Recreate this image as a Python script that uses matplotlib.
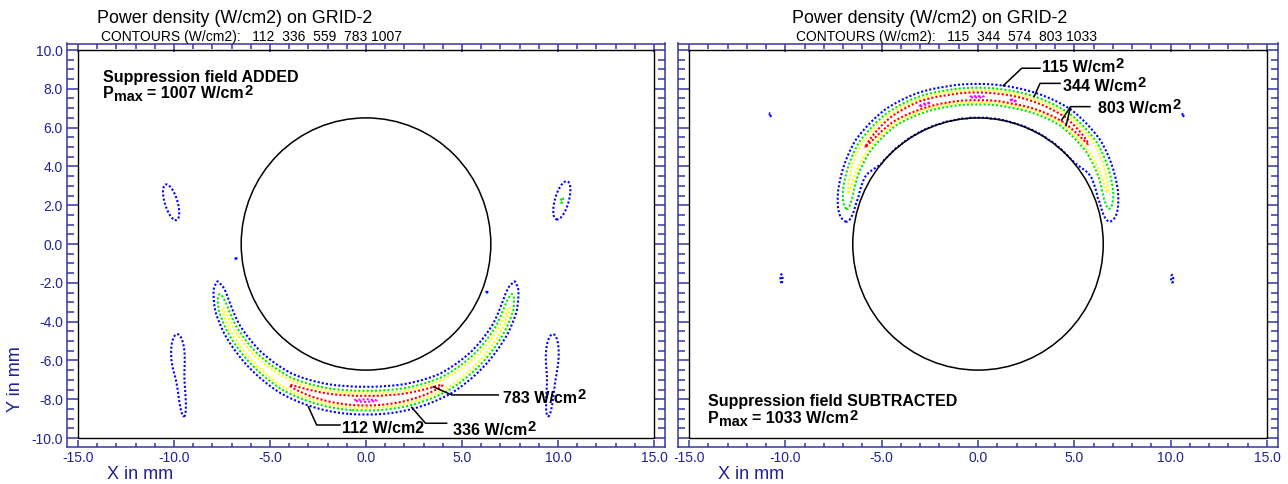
import numpy as np
import matplotlib
matplotlib.use("Agg")
import matplotlib.pyplot as plt
import matplotlib.transforms as mtransforms
from matplotlib.patches import Rectangle, Circle

plt.rcParams['font.family'] = ['Liberation Sans', 'DejaVu Sans']

# ---------------- data ----------------
TITLE = "Power density (W/cm2) on GRID-2"
LEVELS_ADDED = [112, 336, 559, 783, 1007]
LEVELS_SUB = [115, 344, 574, 803, 1033]
PMAX_ADDED = 1007
PMAX_SUB = 1033
CONTOUR_COLORS = ['#0000ff', '#00e800', '#ffff00', '#ff0000', '#ff00ff']
X_TICKS = [-15, -10, -5, 0, 5, 10, 15]
Y_TICKS = [-10, -8, -6, -4, -2, 0, 2, 4, 6, 8, 10]
CONDUCTOR_RADIUS = 6.5

# field band of the "ADDED" case (angle measured from -y axis, degrees)
ADD_PHI = [-90, -80, -75, -71, -66, -58, -45, -30, -20, -8, 0, 8, 20, 30, 45, 58, 66, 71, 75, 80, 90]
ADD_AMP = [0, 40, 130, 350, 575, 610, 640, 770, 880, 990, 1030, 985, 880, 770, 640, 610, 575, 350, 130, 40, 0]
ADD_R0 = [7.9, 7.9, 8.0, 8.05, 8.15, 8.25, 8.3, 8.3, 8.2, 8.1, 8.07, 8.1, 8.2, 8.3, 8.3, 8.25, 8.15, 8.05, 8.0, 7.9, 7.9]
ADD_W = [0.30, 0.30, 0.31, 0.32, 0.34, 0.35, 0.38, 0.42, 0.45, 0.48, 0.48, 0.48, 0.45, 0.42, 0.38, 0.35, 0.34, 0.32, 0.31, 0.30, 0.30]

# field band of the "SUBTRACTED" case (angle measured from +y axis, degrees)
SUB_PHI = [-90, -84, -80, -75, -69, -60, -50, -35, -22, -12, 0, 8, 14, 25, 35, 50, 60, 69, 75, 80, 84, 90]
SUB_AMP = [0, 40, 125, 350, 570, 650, 800, 900, 1045, 1010, 1045, 1010, 1042, 950, 900, 790, 650, 570, 350, 125, 40, 0]
SUB_R0 = [6.9, 6.9, 6.95, 7.05, 7.2, 7.45, 7.68, 7.8, 7.72, 7.62, 7.58, 7.6, 7.62, 7.72, 7.8, 7.68, 7.45, 7.2, 7.05, 6.95, 6.9, 6.9]
SUB_W_OUT = 0.45
SUB_W_IN = 0.30
SUB_TAIL_FRAC = 0.18
SUB_TAIL_W = 2.5

# isolated low-level islands: (cx, cy, sigma_major, sigma_minor, angle_deg, amplitude)
ADD_ISLANDS = [
    (-10.15, 2.15, 1.05, 0.36, 107, 170),
    (-9.8, -5.7, 1.15, 0.38, 92, 170),
    (-9.55, -8.1, 1.0, 0.18, 95, 150),
    (10.2, 2.25, 0.68, 0.24, 74, 345),
    (9.7, -5.7, 1.15, 0.36, 88, 170),
    (9.55, -8.1, 1.0, 0.18, 85, 150),
    (-6.77, -0.72, 0.16, 0.07, 90, 125),
    (6.3, -2.45, 0.18, 0.06, 90, 125),
]
SUB_ISLANDS = [
    (-10.79, 6.65, 0.2, 0.07, 90, 130),
    (10.64, 6.65, 0.2, 0.07, 90, 130),
    (-10.2, -1.78, 0.36, 0.09, 90, 140),
    (10.08, -1.8, 0.34, 0.09, 90, 140),
]

# annotations: (value, superscript?, leader polylines, text position)
ADD_NOTES = [
    (112, False, [[(-3.0, -8.39), (-2.57, -9.33), (-1.35, -9.33)]], (-1.27, -9.74)),
    (336, True, [[(2.38, -8.42), (3.1, -9.24), (4.2, -9.24)]], (4.52, -9.85)),
    (783, True, [[(3.5, -7.36), (4.46, -7.78), (6.89, -7.78)]], (7.12, -8.20)),
]
SUB_NOTES = [
    (115, True, [[(1.31, 8.16), (2.27, 9.06), (3.22, 9.06)]], (3.31, 8.85)),
    (344, True, [[(2.91, 7.59), (3.22, 8.28), (4.26, 8.28)]], (4.40, 7.90)),
    (803, True, [[(4.34, 6.39), (4.81, 7.08), (5.81, 7.08)],
                 [(4.57, 6.10), (4.81, 7.08)]], (6.24, 6.74)),
]

# ---------------- field construction ----------------
xg = np.linspace(-15, 15, 751)
yg = np.linspace(-10, 10, 501)
X, Y = np.meshgrid(xg, yg)
R = np.hypot(X, Y)


def islands(tab):
    out = np.zeros_like(X)
    for cx, cy, su, sv, ang, amp in tab:
        a = np.radians(ang)
        dx, dy = X - cx, Y - cy
        u = dx * np.cos(a) + dy * np.sin(a)
        v = -dx * np.sin(a) + dy * np.cos(a)
        out += amp * np.exp(-0.5 * (u / su) ** 2 - 0.5 * (v / sv) ** 2)
    return out


phiL = np.degrees(np.arctan2(X, -Y))
A = np.interp(phiL, ADD_PHI, ADD_AMP)
r0 = np.interp(phiL, ADD_PHI, ADD_R0)
w = np.interp(phiL, ADD_PHI, ADD_W)
P_add = A * np.exp(-((R - r0) / w) ** 2) + islands(ADD_ISLANDS)
P_add[R < CONDUCTOR_RADIUS] = 0.0

phiR = np.degrees(np.arctan2(X, Y))
A = np.interp(phiR, SUB_PHI, SUB_AMP)
r0 = np.interp(phiR, SUB_PHI, SUB_R0)
d = R - r0
inner = (1 - SUB_TAIL_FRAC) * np.exp(-(d / SUB_W_IN) ** 2) + SUB_TAIL_FRAC * np.exp(-(d / SUB_TAIL_W) ** 2)
outer = np.exp(-(d / SUB_W_OUT) ** 2)
P_sub = A * np.where(d < 0, inner, outer) + islands(SUB_ISLANDS)
P_sub[R < CONDUCTOR_RADIUS] = 0.0

# ---------------- figure ----------------
W, H = 1288, 484
fig = plt.figure(figsize=(W / 100, H / 100), dpi=100)
renderer = fig.canvas.get_renderer()
SPINE = '#3535a8'
LABEL = '#20209a'
PX = 72 / 100.0  # points per pixel
BOLD_SIZE = 11.5


def fx(px):
    return px / W


def fy(py):
    return 1 - py / H


def rich(trans, x, y, parts, size=BOLD_SIZE):
    """Draw a sequence of (text, scale, dy_px, gap_px) pieces along one baseline."""
    off = 0.0
    for s, scale, dy, gap in parts:
        off += gap
        tr = mtransforms.offset_copy(trans, fig=fig, x=off, y=dy, units='dots')
        t = fig.text(x, y, s, transform=tr, fontsize=size * scale, fontweight='bold',
                     ha='left', va='baseline', zorder=7)
        off += t.get_window_extent(renderer).width


def unit_parts(value, sup=True):
    if sup:
        return [(f"{value} W/cm", 1.0, 0, 0), ("2", 0.92, 4, 0.5)]
    return [(f"{value} W/cm2", 1.0, 0, 0)]


axL = fig.add_axes([fx(78), fy(438), (654 - 78) / W, (438 - 50) / H])
axR = fig.add_axes([fx(689), fy(438), (1267 - 689) / W, (438 - 50) / H])


def style(ax, left_labels):
    ax.set_xlim(-15, 15)
    ax.set_ylim(-10, 10)
    offs = {'left': 11, 'right': 11, 'top': 6.5, 'bottom': 9}
    xpad = 11 / 19.2
    for k, s in ax.spines.items():
        s.set_position(('outward', offs[k] * PX))
        s.set_color(SPINE)
        s.set_linewidth(1.1)
    ax.spines['top'].set_bounds(-15 - xpad, 15 + xpad)
    ax.spines['bottom'].set_bounds(-15 - xpad, 15 + xpad)
    ax.spines['left'].set_bounds(-10 - 9 / 19.4, 10 + 6.5 / 19.4)
    ax.spines['right'].set_bounds(-10 - 9 / 19.4, 10 + 6.5 / 19.4)
    ax.set_xticks(X_TICKS)
    ax.set_xticklabels([f"{v:.1f}" for v in X_TICKS])
    ax.set_yticks(Y_TICKS)
    ax.set_yticklabels([f"{v:.1f}" for v in Y_TICKS])
    ax.set_xticks(np.arange(-15, 15.01, 1.0), minor=True)
    ax.set_yticks(np.arange(-10, 10.01, 0.5), minor=True)
    ax.tick_params(axis='both', which='both', direction='in', color=SPINE, width=1.1,
                   top=True, right=True, bottom=True, left=True,
                   labelcolor=LABEL, labelsize=10)
    ax.tick_params(axis='x', which='major', length=7.5 * PX, pad=4 * PX)
    ax.tick_params(axis='x', which='minor', length=4.5 * PX)
    ax.tick_params(axis='y', which='major', length=11 * PX, pad=4 * PX)
    ax.tick_params(axis='y', which='minor', length=7 * PX)
    ax.tick_params(labelleft=left_labels, labelright=False, labeltop=False)
    ax.add_patch(Rectangle((0, 0), 1, 1, transform=ax.transAxes, fill=False,
                           edgecolor='black', linewidth=1.0, zorder=6, clip_on=False))


for ax, P, levels, notes in [(axL, P_add, LEVELS_ADDED, ADD_NOTES),
                             (axR, P_sub, LEVELS_SUB, SUB_NOTES)]:
    style(ax, ax is axL)
    cs = ax.contour(X, Y, P, levels=levels, colors=CONTOUR_COLORS, linewidths=1.5,
                    linestyles='dotted', zorder=2)
    cs.set_linestyle((0, (1, 1)))
    ax.add_patch(Circle((0, 0), CONDUCTOR_RADIUS, fill=False, edgecolor='black',
                        linewidth=1.1, zorder=3))
    for val, sup, lines, (tx, ty) in notes:
        for ln in lines:
            xs, ys = zip(*ln)
            ax.plot(xs, ys, color='black', linewidth=1.1, zorder=4)
        rich(ax.transData, tx, ty, unit_parts(val, sup))

# titles
for x_t, x_s, levels in [(97, 100.7, LEVELS_ADDED), (792, 796, LEVELS_SUB)]:
    fig.text(fx(x_t), fy(23.3), TITLE, fontsize=12.9, ha='left', va='baseline')
    sub = "CONTOURS (W/cm2): " + "".join(f"{v:5d}" for v in levels)
    fig.text(fx(x_s), fy(40.7), sub, fontsize=10.0, ha='left', va='baseline')

# inside labels
ft = fig.transFigure
fig.text(fx(103), fy(81.7), "Suppression field ADDED", fontsize=BOLD_SIZE,
         fontweight='bold', ha='left', va='baseline')
rich(ft, fx(103), fy(98.3), [("P", 1.0, 0, 0), ("max", 0.9, -3, 0.5)] +
     [(f"= {PMAX_ADDED} W/cm", 1.0, 0, 4.4), ("2", 0.92, 3, 0.5)])
fig.text(fx(708), fy(406), "Suppression field SUBTRACTED", fontsize=BOLD_SIZE,
         fontweight='bold', ha='left', va='baseline')
rich(ft, fx(708), fy(423), [("P", 1.0, 0, 0), ("max", 0.9, -3, 0.5)] +
     [(f"= {PMAX_SUB} W/cm", 1.0, 0, 4.4), ("2", 0.92, 3, 0.5)])

# axis labels
fig.text(fx(107), fy(479), "X in mm", fontsize=13, color=LABEL, ha='left', va='baseline')
fig.text(fx(718), fy(479), "X in mm", fontsize=13, color=LABEL, ha='left', va='baseline')
fig.text(fx(15), fy(379), "Y in mm", fontsize=13, color=LABEL, rotation=90,
         ha='center', va='center')

fig.savefig("out.png", dpi=100)
